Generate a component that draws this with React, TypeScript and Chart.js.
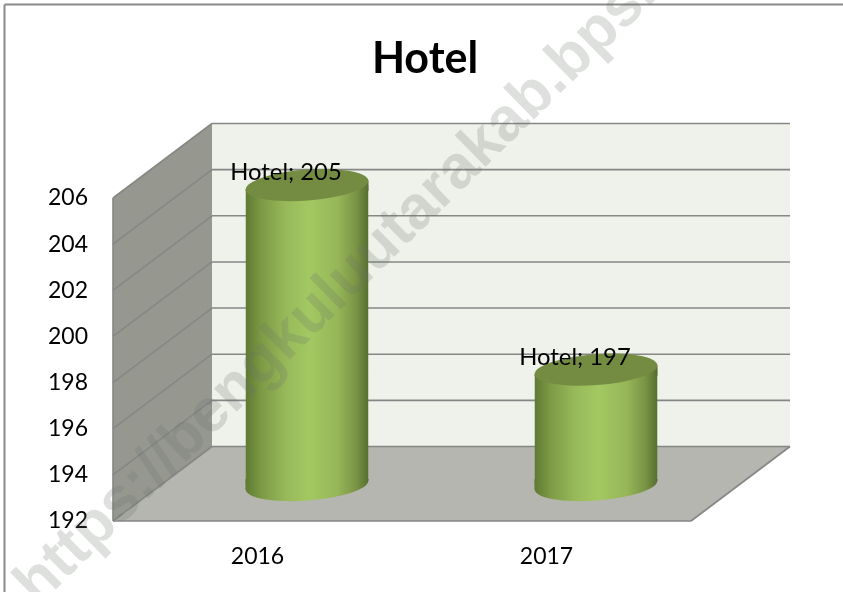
import React, { useEffect, useRef } from "react";
import { Chart, registerables } from "chart.js";

Chart.register(...registerables);

const categories = ["2016", "2017"];
const seriesName = "Hotel";
const hotelValues = [205, 197];
const axisMin = 192;
const axisMax = 206;
const axisStep = 2;
const watermarkText = "https://bengkuluutarakab.bps.go.id";

const FONT = "Lato, 'Open Sans', sans-serif";
const DEPTH_X = 99;
const DEPTH_Y = 74.5;
const BAR_DX = 49.5;
const BAR_DY = 36;
const RY = 15.5;
const TILT = -0.075;

function barGradient(ctx: CanvasRenderingContext2D, left: number, right: number) {
  const g = ctx.createLinearGradient(left, 0, right, 0);
  g.addColorStop(0, "#5e7a33");
  g.addColorStop(0.13, "#7d9a45");
  g.addColorStop(0.33, "#98b95a");
  g.addColorStop(0.52, "#a3c862");
  g.addColorStop(0.75, "#96b658");
  g.addColorStop(0.9, "#7a9445");
  g.addColorStop(1, "#566e30");
  return g;
}

function path(ctx: CanvasRenderingContext2D, pts: number[][]) {
  pts.forEach((p, i) => (i ? ctx.lineTo(p[0], p[1]) : ctx.moveTo(p[0], p[1])));
  ctx.closePath();
}

function poly(ctx: CanvasRenderingContext2D, pts: number[][], fill: any) {
  ctx.beginPath();
  path(ctx, pts);
  ctx.fillStyle = fill;
  ctx.fill();
}

function line(ctx: CanvasRenderingContext2D, x1: number, y1: number, x2: number, y2: number) {
  ctx.beginPath();
  ctx.moveTo(x1, y1);
  ctx.lineTo(x2, y2);
  ctx.stroke();
}

const scene3d = {
  id: "scene3d",
  beforeDatasetsDraw(chart: any) {
    const { ctx, chartArea: a, scales } = chart;
    const y = scales.y;
    const top = y.getPixelForValue(axisMax);
    const bot = y.getPixelForValue(axisMin);
    ctx.save();
    // page frame
    ctx.strokeStyle = "#8a8a8a";
    ctx.lineWidth = 2;
    line(ctx, 4.5, 4.5, 843, 4.5);
    line(ctx, 4.5, 4.5, 4.5, 592);
    // back wall
    poly(ctx, [[a.left + DEPTH_X, top - DEPTH_Y], [a.right + DEPTH_X, top - DEPTH_Y], [a.right + DEPTH_X, bot - DEPTH_Y], [a.left + DEPTH_X, bot - DEPTH_Y]], "#eff1eb");
    // side wall
    poly(ctx, [[a.left, top], [a.left + DEPTH_X, top - DEPTH_Y], [a.left + DEPTH_X, bot - DEPTH_Y], [a.left, bot]], "#969890");
    // floor
    poly(ctx, [[a.left, bot], [a.right, bot], [a.right + DEPTH_X, bot - DEPTH_Y], [a.left + DEPTH_X, bot - DEPTH_Y]], "#b4b6af");
    ctx.strokeStyle = "#858784";
    ctx.lineWidth = 1.6;
    y.ticks.forEach((t: any) => {
      const py = y.getPixelForValue(t.value);
      line(ctx, a.left, py, a.left + DEPTH_X, py - DEPTH_Y);
      line(ctx, a.left + DEPTH_X, py - DEPTH_Y, a.right + DEPTH_X, py - DEPTH_Y);
    });
    line(ctx, a.left, top, a.left, bot);
    line(ctx, a.left, bot, a.right, bot);
    line(ctx, a.right, bot, a.right + DEPTH_X, bot - DEPTH_Y);
    ctx.restore();

    // bars are drawn by the library, moved to mid depth
    const meta = chart.getDatasetMeta(0);
    ctx.save();
    ctx.translate(BAR_DX, -BAR_DY);
    const skew = Math.sin(-TILT);
    const clips: number[][][] = [];
    meta.data.forEach((el: any) => {
      const rx = el.width / 2;
      const l = el.x - rx;
      const r = el.x + rx;
      const dy = rx * skew;
      const grad = barGradient(ctx, l, r);
      ctx.beginPath();
      ctx.ellipse(el.x, el.base, rx, RY, TILT, 0, Math.PI * 2);
      ctx.fillStyle = grad;
      ctx.fill();
      poly(ctx, [[l, el.base - 6], [l, el.base + dy], [r, el.base - dy], [r, el.base - 6]], grad);
      poly(ctx, [[l, el.y + dy], [r, el.y - dy], [r, el.y + 6], [l, el.y + 6]], grad);
      clips.push([[l, el.y + dy], [r, el.y - dy], [r, el.base - dy], [l, el.base + dy]]);
    });
    ctx.save();
    ctx.beginPath();
    clips.forEach((c) => path(ctx, c));
    ctx.clip();
  },
  afterDatasetsDraw(chart: any) {
    const { ctx } = chart;
    const meta = chart.getDatasetMeta(0);
    ctx.restore();
    meta.data.forEach((el: any) => {
      const rx = el.width / 2;
      ctx.beginPath();
      ctx.ellipse(el.x, el.y, rx, RY, TILT, 0, Math.PI * 2);
      ctx.fillStyle = "#748c42";
      ctx.fill();
    });
    ctx.restore();
    ctx.save();
    ctx.fillStyle = "#000";
    ctx.font = `23.8px ${FONT}`;
    ctx.textAlign = "center";
    ctx.textBaseline = "middle";
    meta.data.forEach((el: any, i: number) => {
      ctx.fillText(`${seriesName}; ${hotelValues[i]}`, el.x + 28.5, el.y - 48.5);
    });
    ctx.restore();
  },
  afterDraw(chart: any) {
    const { ctx } = chart;
    ctx.save();
    ctx.translate(38, 607);
    ctx.rotate(-0.777);
    ctx.fillStyle = "rgba(105,115,105,0.22)";
    ctx.font = "bold 61px 'Liberation Sans', sans-serif";
    ctx.textAlign = "left";
    ctx.textBaseline = "alphabetic";
    ctx.fillText(watermarkText, 0, 0);
    ctx.restore();
  },
};

export default function App() {
  const ref = useRef<HTMLCanvasElement>(null);
  useEffect(() => {
    document.body.style.margin = "0";
    document.body.style.background = "#fff";
    const chart = new Chart(ref.current!, {
      type: "bar",
      data: {
        labels: categories,
        datasets: [
          {
            label: seriesName,
            data: hotelValues,
            base: axisMin,
            clip: false,
            barPercentage: 1,
            categoryPercentage: 0.4256,
            borderWidth: 0,
            backgroundColor: (c: any) => {
              const ch = c.chart;
              const cx = ch.scales?.x && c.dataIndex !== undefined ? ch.scales.x.getPixelForValue(c.dataIndex) : NaN;
              if (!Number.isFinite(cx)) return "#9dbf5b";
              return barGradient(ch.ctx, cx - 61.5, cx + 61.5);
            },
          },
        ],
      },
      options: {
        responsive: false,
        animation: false,
        layout: { padding: { left: 7 } },
        plugins: {
          legend: { display: false },
          tooltip: { enabled: false },
          title: {
            display: true,
            text: seriesName,
            color: "#000",
            font: { family: FONT, size: 43, weight: "bold", lineHeight: 1.2 },
            padding: { top: 33, bottom: 113.4 },
          },
        },
        scales: {
          x: {
            grid: { display: false },
            border: { display: false },
            ticks: { color: "#000", font: { family: FONT, size: 23 }, padding: 14 },
            afterFit: (s: any) => { s.height = 71; },
          },
          y: {
            min: axisMin,
            max: axisMax,
            grid: { display: false },
            border: { display: false },
            ticks: { stepSize: axisStep, color: "#000", font: { family: FONT, size: 23 }, padding: 17 },
            afterFit: (s: any) => { s.width = 106; },
          },
          spare: {
            type: "linear",
            position: "right",
            grid: { display: false },
            border: { display: false },
            ticks: { display: false },
            afterFit: (s: any) => { s.width = 152; },
          },
        },
      } as any,
      plugins: [scene3d],
    } as any);
    return () => chart.destroy();
  }, []);
  return (
    <div style={{ width: 843, height: 592 }}>
      <canvas ref={ref} width={843} height={592} style={{ display: "block" }} />
    </div>
  );
}
